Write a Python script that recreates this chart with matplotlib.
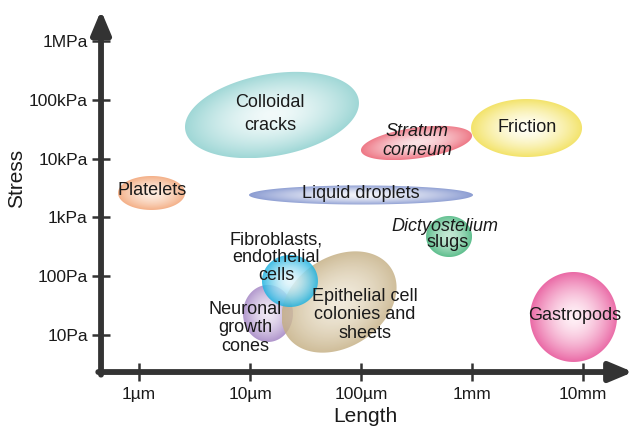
import numpy as np
import matplotlib
matplotlib.use('Agg')
import matplotlib.pyplot as plt
from matplotlib.patches import Polygon
from matplotlib.colors import to_rgb

plt.rcParams['font.family'] = ['Liberation Sans', 'DejaVu Sans']

# log10(length / um) and log10(stress / Pa) of each region
names = ['Neuronal', 'Epithelial', 'Fibroblasts', 'Colloidal', 'Platelets',
         'Liquid', 'Stratum', 'Friction', 'Dicty', 'Gastropods']
log_length = [1.162, 1.802, 1.360, 1.198, 0.113, 2.000, 2.500, 3.491, 2.793, 3.914]
log_stress = [1.366, 1.561, 1.918, 4.741, 3.415, 3.381, 4.265, 4.520, 2.675, 1.306]
# half spans along the (tilted) axes, in decades of length / stress
span_length = [0.225, 0.559, 0.252, 0.793, 0.302, 1.009, 0.505, 0.500, 0.207, 0.392]
span_stress = [0.485, 0.765, 0.442, 0.697, 0.289, 0.162, 0.262, 0.493, 0.349, 0.765]
tilt = [0, 33, 0, 10, 0, 0, 8, 0, 0, 0]

edge_colors = ['#b096cc', '#c4ae82', '#1db2e0', '#9fd7d6', '#f4b088',
               '#8c9dd2', '#ee7886', '#f3e36a', '#5fbf8e', '#ea6aa6']
center_colors = ['#efe8f4', '#eee6d4', '#e2f6fc', '#f2fafa', '#fdece0',
                 '#f2f3fa', '#fbe3e6', '#fffef4', '#c4e8d4', '#fff0f6']
alphas = [1.0, 0.82, 0.85, 1, 1, 1, 1, 1, 1, 1]

x_ticks = [0, 1, 2, 3, 4]
x_labels = ['1µm', '10µm', '100µm', '1mm', '10mm']
y_ticks = [1, 2, 3, 4, 5, 6]
y_labels = ['10Pa', '100Pa', '1kPa', '10kPa', '100kPa', '1MPa']

fig = plt.figure(figsize=(6.36, 4.29), dpi=100)
ax = fig.add_axes([0, 0, 1, 1])
xlim = (-1.252, 4.477)
ylim = (-0.599, 6.697)
ax.set_xlim(xlim)
ax.set_ylim(ylim)

# display ratio of a stress decade to a length decade
p0 = ax.transData.transform((0, 0))
p1 = ax.transData.transform((1, 1))
k = (p1[1] - p0[1]) / (p1[0] - p0[0])


def draw_blob(cx, cy, a, b, ang, edge, center, alpha, z):
    th = np.radians(ang)
    bu = b * k
    t = np.linspace(0, 2 * np.pi, 300)
    u = a * np.cos(t) * np.cos(th) - bu * np.sin(t) * np.sin(th)
    v = a * np.cos(t) * np.sin(th) + bu * np.sin(t) * np.cos(th)
    xs = cx + u
    ys = cy + v / k
    poly = Polygon(np.column_stack([xs, ys]), closed=True, fc='none', ec='none')
    ax.add_patch(poly)
    x0, x1 = xs.min(), xs.max()
    y0, y1 = ys.min(), ys.max()
    gx, gy = np.meshgrid(np.linspace(x0, x1, 250), np.linspace(y0, y1, 250))
    du = gx - cx
    dv = (gy - cy) * k
    pp = du * np.cos(th) + dv * np.sin(th)
    qq = -du * np.sin(th) + dv * np.cos(th)
    r = np.sqrt((pp / a) ** 2 + (qq / bu) ** 2).clip(0, 1)
    f = r ** 1.6
    ce = np.array(to_rgb(edge))
    cc = np.array(to_rgb(center))
    rgb = cc * (1 - f)[..., None] + ce * f[..., None]
    img = np.dstack([rgb, np.full(r.shape, alpha)])
    im = ax.imshow(img, extent=(x0, x1, y0, y1), origin='lower', aspect='auto',
                   interpolation='bilinear', zorder=z)
    im.set_clip_path(poly)


for i in range(len(names)):
    draw_blob(log_length[i], log_stress[i], span_length[i], span_stress[i], tilt[i],
              edge_colors[i], center_colors[i], alphas[i], 2 + i * 0.01)

ax.set_xlim(xlim)
ax.set_ylim(ylim)

# labels
tc = '#1a1a1a'
fs = 13
ax.text(1.180, 4.759, 'Colloidal\ncracks', ha='center', va='center', fontsize=fs, color=tc, linespacing=1.45, zorder=5)
ax.text(2.505, 4.299, 'Stratum\ncorneum', ha='center', va='center', fontsize=fs, color=tc, style='italic', linespacing=1.1, zorder=5)
ax.text(3.495, 4.537, 'Friction', ha='center', va='center', fontsize=fs, color=tc, zorder=5)
ax.text(0.117, 3.449, 'Platelets', ha='center', va='center', fontsize=fs, color=tc, zorder=5)
ax.text(2.0, 3.398, 'Liquid droplets', ha='center', va='center', fontsize=fs, color=tc, zorder=5)
ax.text(2.757, 2.837, 'Dictyostelium', ha='center', va='center', fontsize=fs, color=tc, style='italic', zorder=5)
ax.text(2.784, 2.565, 'slugs', ha='center', va='center', fontsize=fs, color=tc, zorder=5)
ax.text(1.234, 2.310, 'Fibroblasts,\nendothelial\ncells', ha='center', va='center', fontsize=fs, color=tc, linespacing=1.08, zorder=5)
ax.text(0.955, 1.119, 'Neuronal\ngrowth\ncones', ha='center', va='center', fontsize=fs, color=tc, linespacing=1.08, zorder=5)
ax.text(2.036, 1.340, 'Epithelial cell\ncolonies and\nsheets', ha='center', va='center', fontsize=fs, color=tc, linespacing=1.08, zorder=5)
ax.text(3.928, 1.323, 'Gastropods', ha='center', va='center', fontsize=fs, color=tc, zorder=5)

# axes with arrows
axc = '#333333'
x_axis = -0.342
y_axis = 0.37
for s in ax.spines.values():
    s.set_visible(False)
ax.spines['left'].set_position(('data', x_axis))
ax.spines['bottom'].set_position(('data', y_axis))
arrow = dict(arrowstyle='-|>,head_length=1.0,head_width=0.42', lw=4.2, color=axc,
             shrinkA=0, shrinkB=0, mutation_scale=14)
ax.annotate('', xy=(x_axis, 6.52), xytext=(x_axis, y_axis - 0.045),
            arrowprops=arrow, annotation_clip=False, zorder=6)
ax.annotate('', xy=(4.45, y_axis), xytext=(x_axis - 0.025, y_axis),
            arrowprops=arrow, annotation_clip=False, zorder=6)

ax.set_xticks(x_ticks)
ax.set_xticklabels(x_labels)
ax.set_yticks(y_ticks)
ax.set_yticklabels(y_labels)
ax.tick_params(direction='inout', length=13, width=1.8, color=axc, labelsize=12.5,
               labelcolor=tc)
ax.tick_params(axis='x', pad=4)
ax.tick_params(axis='y', pad=3)

ax.set_xlabel('Length', fontsize=15, color=tc)
ax.set_ylabel('Stress', fontsize=15, color=tc)
ax.xaxis.set_label_coords(365 / 636, 1 - 416 / 429)
ax.xaxis.label.set_va('center')
ax.yaxis.set_label_coords(17 / 636, 1 - 178 / 429)
ax.yaxis.label.set_va('center')

fig.savefig('out.png', dpi=100)
